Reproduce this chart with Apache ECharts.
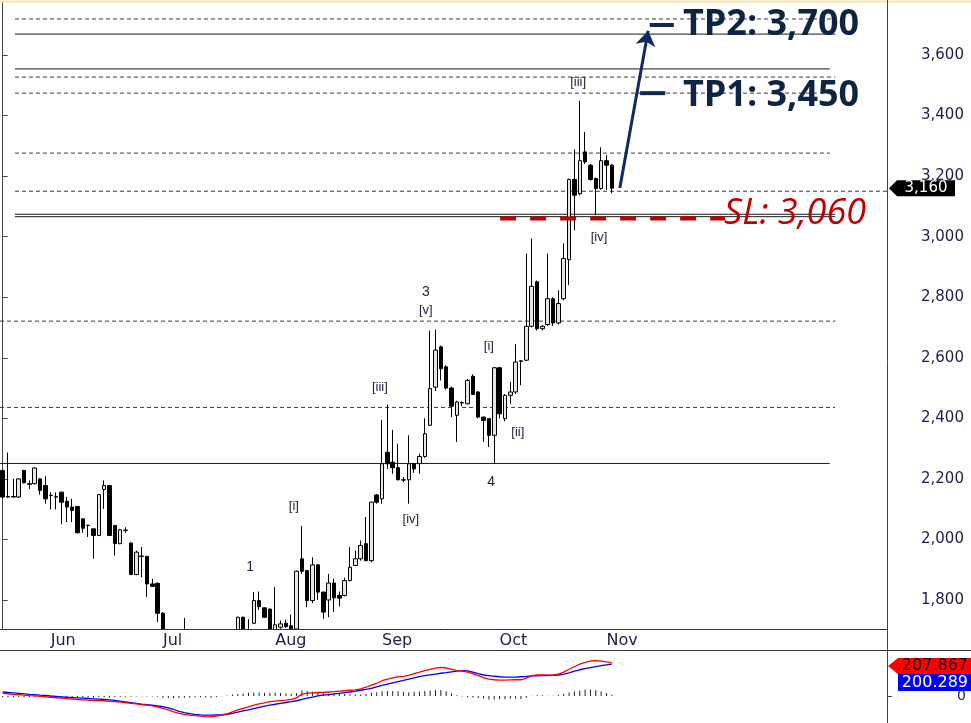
<!DOCTYPE html>
<html>
<head>
<meta charset="utf-8">
<script src="https://cdn.jsdelivr.net/npm/echarts@6/dist/echarts.min.js"></script>
<style>
html, body { margin: 0; padding: 0; background: #fff; }
#chart { width: 971px; height: 723px; }
</style>
</head>
<body>
<div id="chart"></div>
<script>
// daily candles, Jun..Nov
var opens = [2228,2142,2142,2140,2228,2184,2184,2200,2178,2146, 2141,2156,2126,2107,2109,2068,2047,2035,2013,2165,
	2178,2046,1986,2031,1988,1884,1945,1944,1853,1855, 1756,1688,1650,1625,1605,1640,1612,1590,1580,1602,
	1620,1642,1660,1680,1690,1743,1690,1723,1798,1774, 1770,1700,1710,1723,1715,1704,1936,1897,1798,1916,
	1826,1800,1856,1815,1815,1864,1914,1936,1986,1930, 2147,2134,2288,2255,2237,2197,2197,2250,2250,2274,
	2377,2503,2636,2570,2500,2410,2452,2448,2539,2487, 2404,2399,2344,2567,2399,2476,2487,2588,2592,2704,
	2851,2696,2710,2795,2715,2795,2924,3189,3142,3280, 3236,3192,3159,3251,3236];
var closes = [2140,2140,2140,2200,2187,2182,2236,2162,2134,2145, 2140,2123,2107,2096,2022,2037,2046,2013,2148,2178,
	2013,1986,2032,2030,1884,1958,1944,1853,1845,1756, 1690,1650,1625,1600,1640,1612,1590,1580,1602,1620,
	1642,1660,1680,1690,1743,1690,1695,1798,1778,1743, 1695,1718,1721,1712,1705,1895,1895,1798,1916,1826,
	1760,1856,1807,1806,1864,1908,1936,1980,1930,2123, 2123,2250,2250,2237,2197,2196,2250,2233,2274,2349,
	2498,2625,2564,2500,2440,2454,2451,2525,2479,2404, 2393,2344,2567,2415,2476,2487,2586,2590,2704,2836,
	2696,2704,2795,2715,2779,2928,3189,3137,3251,3247, 3189,3159,3251,3236,3160];
var lows = [2136,2138,2139,2138,2185,2167,2182,2148,2118,2099, 2099,2050,2057,2057,2020,2022,2008,1936,2011,2101,
	2011,1947,1984,2022,1882,1882,1875,1811,1843,1727, 1675,1640,1610,1590,1598,1600,1575,1560,1570,1595,
	1612,1635,1655,1670,1680,1680,1670,1721,1767,1741, 1680,1688,1705,1708,1700,1700,1886,1776,1790,1800,
	1738,1743,1760,1779,1812,1862,1912,1930,1928,1925, 2118,2118,2233,2217,2195,2189,2118,2220,2217,2270,
	2375,2490,2525,2495,2404,2322,2440,2446,2477,2400, 2322,2305,2250,2400,2390,2448,2480,2509,2590,2700,
	2690,2690,2705,2705,2710,2790,2840,3021,3137,3240, 3185,3071,3155,3154,3143];
var highs = [2232,2287,2200,2202,2230,2195,2238,2202,2209,2156, 2156,2158,2140,2134,2110,2070,2048,2036,2150,2195,
	2180,2048,2035,2040,1991,1963,1975,1946,1870,1858, 1760,1695,1660,1640,1741,1650,1620,1600,1610,1630,
	1650,1670,1690,1698,1745,1745,1737,1826,1828,1776, 1772,1842,1732,1735,1752,1897,2044,1899,1941,1918,
	1828,1886,1870,1828,1874,1974,1963,1996,2074,2125, 2150,2395,2446,2362,2316,2206,2344,2252,2283,2400,
	2690,2693,2640,2575,2505,2458,2456,2530,2545,2490, 2406,2401,2570,2570,2480,2520,2645,2592,2944,2994,
	2855,2708,2944,2800,2823,2978,3192,3288,3449,3346, 3240,3195,3295,3269,3240];

// MACD (red) and signal (blue)
var macdLine = [17,14,10,8,5,2,1,-2,-5,-8, -11,-14,-17,-19,-22,-24,-26,-29,-28,-30,
	-34,-36,-38,-42,-47,-50,-54,-58,-62,-68, -78,-88,-100,-110,-116,-120,-124,-127,-130,-131,
	-126,-120,-112,-100,-88,-78,-68,-58,-50,-44, -36,-32,-29,-26,-22,-12,12,18,20,22,
	23,25,27,30,33,36,39,45,55,68, 80,96,106,114,120,124,130,140,150,160,
	168,175,180,176,168,160,156,150,140,128, 116,106,102,100,100,101,102,102,112,128,
	132,132,131,132,138,150,168,184,200,212, 220,222,219,214,207.867];
var signalLine = [25,22,19,16,13,10,8,5,3,0, -2,-5,-8,-10,-12,-14,-16,-18,-20,-22,
	-25,-28,-32,-37,-42,-47,-52,-55,-58,-63, -67,-75,-85,-97,-105,-111,-116,-119,-121,-120,
	-119,-118,-115,-109,-101,-94,-88,-80,-72,-64, -57,-52,-47,-41,-36,-30,-22,-14,-7,0,
	5,9,13,17,21,25,30,36,42,48, 57,66,74,82,90,98,106,114,122,128,
	133,138,143,147,152,156,160,158,150,140, 132,128,124,121,119,118,119,121,123,126,
	127,128,129,130,132,138,146,156,165,172, 179,185,191,196,200.289];

var monthStarts = [9, 30, 51, 71, 93, 113];
var monthNames = ['Jun', 'Jul', 'Aug', 'Sep', 'Oct', 'Nov'];
var priceTicks = [1800, 2000, 2200, 2400, 2600, 2800, 3000, 3200, 3400, 3600];

// horizontal levels drawn on the chart
var levelValues = [3719, 3669, 3554, 3527, 3474, 3276, 3150, 3074, 3066, 2721, 2436, 2251];
var levelDashed = [true, false, false, true, true, true, true, false, false, true, true, false];
var slValue = 3060;
var tp1Value = 3474;
var tp2Value = 3699;

// elliott wave labels
var waveNames = ['1', '[i]', '[iii]', '[iv]', '3', '[v]', '[i]', '[ii]', '4', '[iii]', '[iv]'];
var waveAt = [46.3, 54.5, 70.6, 76.4, 79.2, 79.2, 91, 96.4, 91.4, 107.7, 111.6];
var waveValue = [1909, 2110, 2503, 2067, 2817, 2758, 2636, 2355, 2190, 3511, 2996];

var SLOTS = 166;
var slots = [];
for (var i = 0; i < SLOTS; i++) slots.push(String(i));

var candles = [];
for (var i = 0; i < opens.length; i++) {
	candles.push([opens[i], closes[i], lows[i], highs[i]]);
}
var hist = [];
for (var i = 0; i < macdLine.length; i++) {
	hist.push(+(macdLine[i] - signalLine[i]).toFixed(3));
}

function isMonthStart(index) {
	return monthStarts.indexOf(index) >= 0;
}

// spans of the level lines, in slot units
var levelSpan = [[2.3, 155.8], [2.3, 155.8], [2.3, 154.8], [2.3, 155.8], [2.3, 155.8], [2.3, 154.8],
	[2.3, 165.5], [2.3, 155.8], [2.3, 155.8], [-0.5, 155.8], [-0.5, 155.8], [-0.5, 154.8]];

var series = [];
for (var i = 0; i < levelValues.length; i++) {
	series.push({
		type: 'line', xAxisIndex: 1, yAxisIndex: 0, symbol: 'none', silent: true, z: 1,
		data: [[levelSpan[i][0], levelValues[i]], [levelSpan[i][1], levelValues[i]]],
		lineStyle: levelDashed[i]
			? {color: '#3a3a3a', width: 1, type: [4, 3]}
			: {color: '#1a1a1a', width: 1}
	});
}

series.push({
	type: 'candlestick', xAxisIndex: 0, yAxisIndex: 0, data: candles, barWidth: 4, clip: true, z: 3,
	itemStyle: {color: '#e6e6e6', color0: '#000', borderColor: '#000', borderColor0: '#000', borderWidth: 1}
});

// stop loss
series.push({
	type: 'line', xAxisIndex: 1, yAxisIndex: 0, symbol: 'none', silent: true, z: 4,
	data: [[93.1, slValue], [135.2, slValue]],
	lineStyle: {color: '#c40000', width: 4, type: [16, 14]}
});
// TP stubs
series.push({
	type: 'line', xAxisIndex: 1, yAxisIndex: 0, symbol: 'none', silent: true, z: 4,
	data: [[119.3, tp1Value], [124, tp1Value]],
	lineStyle: {color: '#0f2a52', width: 4}
});
series.push({
	type: 'line', xAxisIndex: 1, yAxisIndex: 0, symbol: 'none', silent: true, z: 4,
	data: [[121.1, tp2Value], [125.6, tp2Value]],
	lineStyle: {color: '#0f2a52', width: 4}
});
// arrow to TP2
series.push({
	type: 'line', xAxisIndex: 1, yAxisIndex: 0, data: [], silent: true, z: 5,
	markLine: {
		silent: true, animation: false,
		symbol: ['none', 'arrow'], symbolSize: 15,
		lineStyle: {color: '#0f2a5e', width: 3, type: 'solid', opacity: 1},
		label: {show: false},
		data: [[{coord: [115.5, 3161]}, {coord: [120.8, 3680]}]]
	}
});

// wave labels
var waveData = [];
for (var i = 0; i < waveNames.length; i++) {
	var big = /^[0-9]$/.test(waveNames[i]);
	waveData.push({name: waveNames[i], value: [waveAt[i], waveValue[i]], label: {fontSize: big ? 14 : 13}});
}
series.push({
	type: 'scatter', xAxisIndex: 1, yAxisIndex: 0, symbolSize: 0, silent: true, z: 6,
	data: waveData,
	itemStyle: {opacity: 1},
	label: {show: true, position: 'inside', formatter: '{b}', color: '#23233f', opacity: 1, fontFamily: 'Liberation Sans'}
});

// TP / SL texts
series.push({
	type: 'scatter', xAxisIndex: 1, yAxisIndex: 0, symbolSize: 0, silent: true, z: 6,
	data: [
		{name: 'TP2: 3,700', value: [127.3, 3699]},
		{name: 'TP1: 3,450', value: [127.3, 3464]},
		{name: 'SL: 3,060', value: [135, 3075], label: {color: '#c00000', fontWeight: 'normal', fontStyle: 'italic'}}
	],
	itemStyle: {opacity: 1},
	label: {
		show: true, position: 'right', distance: 0, formatter: '{b}', opacity: 1,
		fontFamily: 'Open Sans', fontSize: 36, fontWeight: 'bold', color: '#0e2442'
	}
});

// MACD panel (drawn above the white mask)
series.push({
	type: 'bar', xAxisIndex: 2, yAxisIndex: 1, data: hist, barWidth: 1, silent: true, z: 15,
	itemStyle: {color: '#222'}
});
series.push({
	type: 'line', xAxisIndex: 2, yAxisIndex: 1, data: signalLine, symbol: 'none', silent: true, z: 15,
	lineStyle: {color: '#0000ff', width: 1.3}
});
series.push({
	type: 'line', xAxisIndex: 2, yAxisIndex: 1, data: macdLine, symbol: 'none', silent: true, z: 16,
	lineStyle: {color: '#ff0000', width: 1.3}
});

var option = {
	animation: false,
	backgroundColor: '#fff',
	textStyle: {fontFamily: 'DejaVu Sans'},
	grid: [
		{left: 0, top: 3, width: 887, height: 626},
		{left: 0, top: 651, width: 887, height: 72}
	],
	xAxis: [{
		type: 'category', gridIndex: 0, data: slots, boundaryGap: true, z: 20,
		axisLine: {lineStyle: {color: '#333'}},
		axisTick: {interval: isMonthStart, length: 6, lineStyle: {color: '#333'}},
		axisLabel: {
			interval: isMonthStart,
			formatter: function(v, idx) {
				var k = monthStarts.indexOf(idx);
				return k >= 0 ? monthNames[k] : '';
			},
			align: 'left', margin: 4, fontSize: 16, color: '#1d1d4a'
		},
		splitLine: {show: false}
	}, {
		type: 'value', gridIndex: 0, min: -0.5, max: SLOTS - 0.5, show: false
	}, {
		type: 'category', gridIndex: 1, data: slots, boundaryGap: true, show: false
	}],
	yAxis: [{
		type: 'value', gridIndex: 0, position: 'right', min: 1704.2, max: 3771.7,
		axisLine: {show: true, lineStyle: {color: '#444'}},
		axisTick: {show: true, customValues: priceTicks, length: 5, lineStyle: {color: '#444'}},
		axisLabel: {
			customValues: priceTicks, margin: 34, fontSize: 15, color: '#1d1d4a',
			formatter: function(v) { return v.toLocaleString('en-US'); }
		},
		splitLine: {show: false}
	}, {
		type: 'value', gridIndex: 1, position: 'right', min: -170, max: 283,
		axisLine: {show: true, lineStyle: {color: '#444'}},
		axisTick: {show: true, customValues: [0], length: 5, lineStyle: {color: '#444'}},
		axisLabel: {customValues: [0], margin: 70, fontSize: 14, color: '#1d1d4a'},
		splitLine: {show: false}
	}],
	series: series
};

var chart = echarts.init(document.getElementById('chart'));
chart.setOption(option);

// price tags on the right axis
var lastClose = closes[closes.length - 1];
var lastMacd = macdLine[macdLine.length - 1];
var lastSignal = signalLine[signalLine.length - 1];
var yPrice = chart.convertToPixel({yAxisIndex: 0}, lastClose);
var yMacd = chart.convertToPixel({yAxisIndex: 1}, lastMacd) + 3;

chart.setOption({
	graphic: [
		// hide candle parts falling under the price axis
		{type: 'rect', z: 10, shape: {x: 0, y: 629.5, width: 887, height: 94}, style: {fill: '#fff'}},
		{type: 'line', shape: {x1: 0, y1: 1.5, x2: 971, y2: 1.5}, style: {stroke: '#fbe3a0', lineWidth: 2}},
		{type: 'line', z: 30, shape: {x1: 887.5, y1: 0, x2: 887.5, y2: 723}, style: {stroke: '#444', lineWidth: 1}},
		{type: 'line', z: 30, shape: {x1: 0, y1: 650.5, x2: 971, y2: 650.5}, style: {stroke: '#333', lineWidth: 1}},
		{
			type: 'polygon', z: 100,
			shape: {points: [[889, yPrice], [897, yPrice - 8], [955, yPrice - 8], [955, yPrice + 8], [897, yPrice + 8]]},
			style: {fill: '#000'}
		},
		{
			type: 'text', z: 101, x: 926, y: yPrice,
			style: {text: lastClose.toLocaleString('en-US'), fill: '#fff', font: '15px "DejaVu Sans"', align: 'center', verticalAlign: 'middle'}
		},
		{
			type: 'polygon', z: 100,
			shape: {points: [[888, yMacd], [898, yMacd - 8], [971, yMacd - 8], [971, yMacd + 8], [898, yMacd + 8]]},
			style: {fill: '#ff0000'}
		},
		{
			type: 'text', z: 101, x: 968, y: yMacd,
			style: {text: lastMacd.toFixed(3), fill: '#1a0000', font: '16px "DejaVu Sans"', align: 'right', verticalAlign: 'middle'}
		},
		{
			type: 'rect', z: 100,
			shape: {x: 898, y: yMacd + 8, width: 73, height: 17},
			style: {fill: '#0000ff'}
		},
		{
			type: 'text', z: 101, x: 968, y: yMacd + 16.5,
			style: {text: lastSignal.toFixed(3), fill: '#fff', font: '16px "DejaVu Sans"', align: 'right', verticalAlign: 'middle'}
		}
	]
});
</script>
</body>
</html>
